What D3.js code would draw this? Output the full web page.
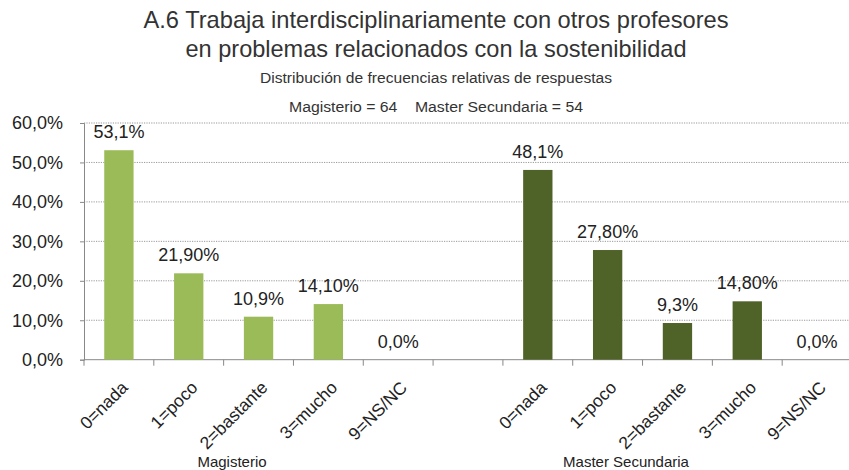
<!DOCTYPE html>
<html lang="es">
<head>
<meta charset="UTF-8">
<title>A.6 Trabaja interdisciplinariamente</title>
<style>
  body { margin: 0; background: #fff; }
  svg { display: block; }
  text { font-family: "Liberation Sans", Arial, sans-serif; fill: #222; }
  .title { fill: #333; }
</style>
</head>
<body>
<svg id="chart"></svg>
<script src="https://d3js.org/d3.v7.min.js"></script>
<script>
// categories and values
const categories = ['0=nada', '1=poco', '2=bastante', '3=mucho', '9=NS/NC'];
const groups = ['Magisterio', 'Master Secundaria'];
const magisterio = [53.1, 21.9, 10.9, 14.1, 0.0];
const master = [48.1, 27.8, 9.3, 14.8, 0.0];
const magisterioLabels = ['53,1%', '21,90%', '10,9%', '14,10%', '0,0%'];
const masterLabels = ['48,1%', '27,80%', '9,3%', '14,80%', '0,0%'];
const yTicks = [0, 10, 20, 30, 40, 50, 60];
const colors = ['#9BBB59', '#4F6228'];

const width = 849, height = 470;
const margin = { left: 84, right: -3, top: 123, bottom: 110 };

const svg = d3.select('#chart').attr('width', width).attr('height', height);

// 11 slots: 5 bars, an empty slot, 5 bars
const slots = [];
categories.forEach((c, i) => slots.push({ key: 'a' + i, cat: c, value: magisterio[i], label: magisterioLabels[i], g: 0 }));
slots.push({ key: 'gap', cat: '', value: null, label: '', g: -1 });
categories.forEach((c, i) => slots.push({ key: 'b' + i, cat: c, value: master[i], label: masterLabels[i], g: 1 }));

const x = d3.scaleBand()
  .domain(slots.map(d => d.key))
  .range([margin.left, width - margin.right])
  .paddingInner(0.58).paddingOuter(0.29);

const y = d3.scaleLinear().domain([0, 60]).range([height - margin.bottom - 0.3, margin.top]);

// titles (squeezed to the condensed widths of the original)
const titles = [
  { t: 'A.6 Trabaja interdisciplinariamente con otros profesores', y: 28, s: 24, w: 585 },
  { t: 'en problemas relacionados con la sostenibilidad', y: 57, s: 24, w: 501 },
  { t: 'Distribución de frecuencias relativas de respuestas', y: 83, s: 14, w: 352 },
  { t: 'Magisterio = 64    Master Secundaria = 54', y: 112, s: 14, w: 294 }
];
svg.selectAll('.title').data(titles).enter().append('text')
  .attr('class', 'title')
  .attr('x', 436).attr('y', d => d.y)
  .attr('text-anchor', 'middle')
  .attr('font-size', d => d.s)
  .attr('textLength', d => d.w)
  .attr('lengthAdjust', 'spacingAndGlyphs')
  .attr('xml:space', 'preserve')
  .text(d => d.t);

// gridlines
svg.append('g').selectAll('line').data(yTicks.filter(t => t > 0)).enter().append('line')
  .attr('x1', margin.left).attr('x2', width)
  .attr('y1', d => y(d)).attr('y2', d => y(d))
  .attr('stroke', '#999').attr('stroke-width', 1).attr('stroke-dasharray', '1.2,1.2');

// y axis
const yAxis = svg.append('g').attr('transform', `translate(${margin.left},0)`)
  .call(d3.axisLeft(y).tickValues(yTicks).tickSize(4).tickFormat(d => d3.format('.1f')(d).replace('.', ',') + '%'));
yAxis.select('.domain').attr('stroke', '#888');
yAxis.selectAll('.tick line').attr('stroke', '#888');
yAxis.selectAll('.tick text')
  .attr('font-size', 18).attr('x', -21).attr('fill', '#222')
  .attr('font-family', '"Liberation Sans", Arial, sans-serif');

// x axis line and ticks at slot boundaries
const step = x.step();
const x0 = margin.left;
svg.append('line')
  .attr('x1', x0).attr('x2', width).attr('y1', y(0)).attr('y2', y(0))
  .attr('stroke', '#888');
svg.append('g').selectAll('line').data(d3.range(slots.length + 1)).enter().append('line')
  .attr('x1', i => x0 + i * step).attr('x2', i => x0 + i * step)
  .attr('y1', y(0)).attr('y2', y(0) + 6)
  .attr('stroke', '#888');

const real = slots.filter(d => d.g >= 0);

// bars
svg.append('g').selectAll('rect').data(real).enter().append('rect')
  .attr('x', d => x(d.key))
  .attr('width', x.bandwidth())
  .attr('y', d => y(d.value))
  .attr('height', d => y(0) - y(d.value))
  .attr('fill', d => colors[d.g]);

// value labels
svg.append('g').selectAll('text').data(real).enter().append('text')
  .attr('x', d => x(d.key) + x.bandwidth() / 2)
  .attr('y', d => y(d.value) - 12)
  .attr('text-anchor', 'middle')
  .attr('font-size', 18)
  .text(d => d.label);

// category labels, rotated
svg.append('g').selectAll('text').data(real).enter().append('text')
  .attr('font-size', 17.5)
  .attr('text-anchor', 'end')
  .attr('transform', d => `translate(${x(d.key) + x.bandwidth() / 2 + 10},${y(0) + 29}) rotate(-45)`)
  .text(d => d.cat);

// group labels
const groupX = [232, 626];
svg.append('g').selectAll('text').data(groups).enter().append('text')
  .attr('x', (d, i) => groupX[i])
  .attr('y', 467)
  .attr('text-anchor', 'middle')
  .attr('font-size', 15)
  .attr('fill', '#333')
  .text(d => d);
</script>
</body>
</html>
